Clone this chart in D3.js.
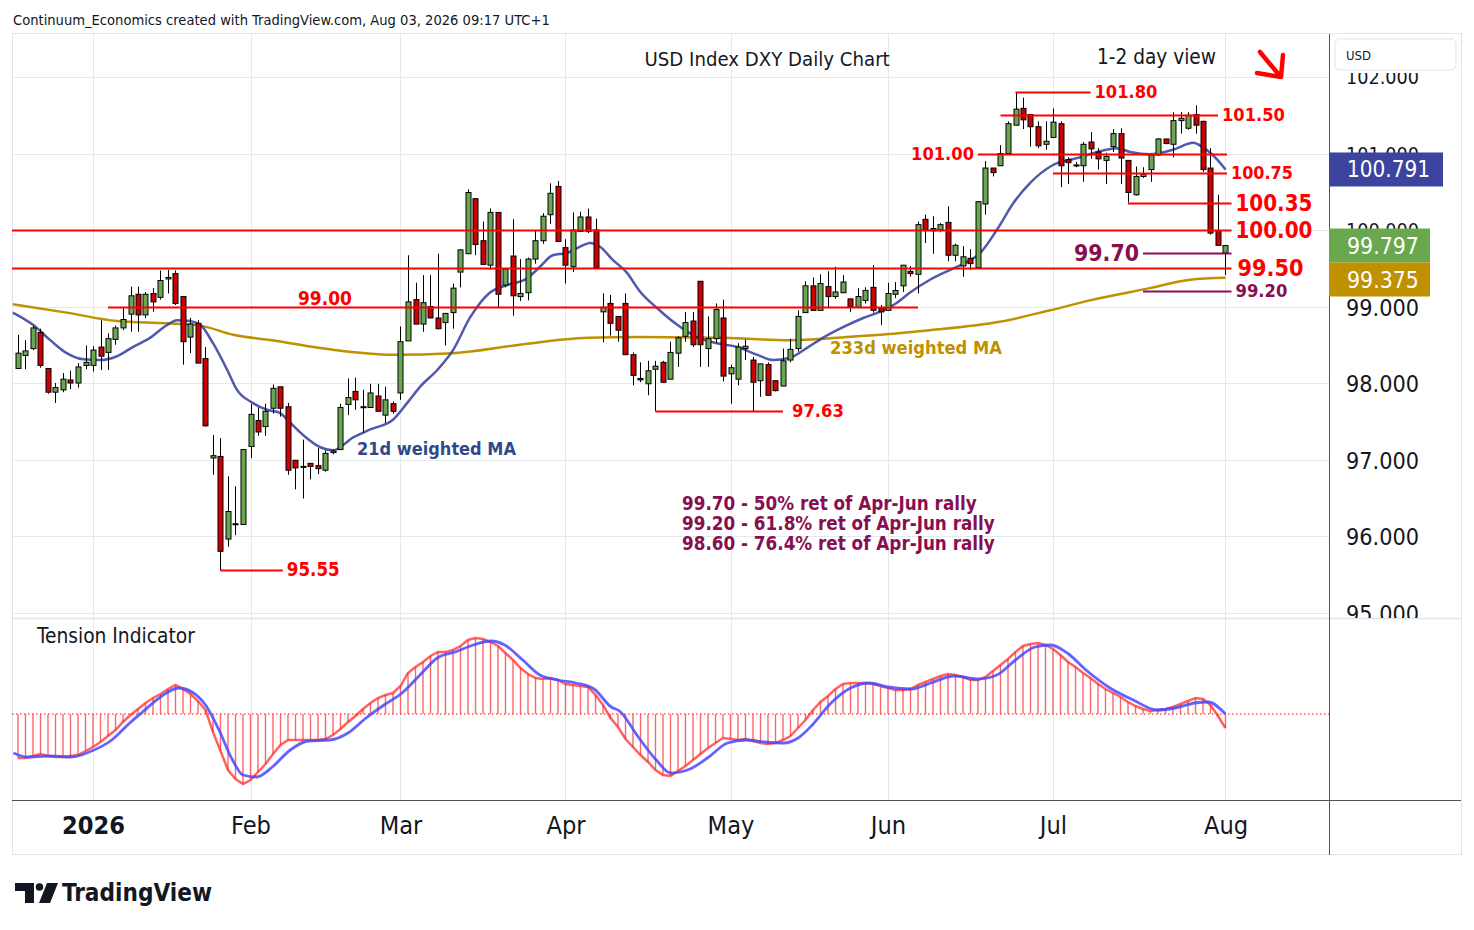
<!DOCTYPE html>
<html><head><meta charset="utf-8">
<script src="https://cdn.jsdelivr.net/npm/d3@7"></script>
<style>
html,body{margin:0;padding:0;background:#fff;}
svg{display:block;}
</style></head><body>
<svg id="c" width="1474" height="930"></svg>
<script>
// ---------------- DATA ----------------
const START_DATE = "2025-12-17";
const HOLIDAYS = ["2025-12-25","2026-01-01"];
const open = [98.19,98.36,98.45,98.66,98.19,97.88,97.91,98.04,98.00,98.23,
98.23,98.47,98.40,98.57,98.72,98.90,99.16,98.89,99.17,99.12,
99.36,99.43,99.13,98.60,98.78,98.32,97.02,97.04,95.96,96.15,
96.15,97.17,97.51,97.43,97.67,97.95,97.69,96.99,96.90,96.95,
96.92,96.86,97.09,97.13,97.72,97.89,97.68,97.68,97.83,97.58,
97.73,97.87,98.55,99.09,98.77,99.00,98.85,98.79,98.92,99.45,
99.69,100.41,99.86,99.54,100.23,99.28,99.66,99.13,99.18,99.62,
99.86,100.20,100.57,99.77,99.52,99.98,100.17,100.00,98.93,99.04,
98.87,99.04,98.37,98.06,97.99,98.18,98.27,98.05,98.39,98.61,
98.81,99.33,98.45,98.58,98.85,98.12,98.05,98.45,98.30,98.03,
98.24,98.03,97.96,98.30,98.45,98.92,99.27,98.95,99.26,99.13,
99.18,99.10,98.99,99.08,99.25,98.98,98.95,99.16,99.27,99.46,
99.42,100.14,100.02,100.00,100.10,99.67,99.53,99.63,99.51,100.34,
100.81,100.84,101.00,101.37,101.59,101.51,101.35,101.12,101.21,101.39,
100.92,100.84,100.84,101.15,101.02,100.91,101.09,101.26,100.91,100.46,
100.70,100.79,100.98,101.19,101.12,101.43,101.33,101.51,101.42,100.81,
99.99,99.70];
const high = [98.63,98.56,98.75,98.71,98.19,98.00,98.13,98.16,98.26,98.49,
98.48,98.82,98.65,98.75,98.98,99.26,99.26,99.19,99.24,99.47,
99.48,99.47,99.13,98.85,98.82,98.47,97.32,97.28,96.78,96.65,
97.13,97.73,97.68,97.73,97.98,97.95,97.74,96.99,97.26,96.95,
97.15,97.12,97.13,97.73,98.06,98.07,97.91,97.99,97.99,97.95,
97.76,98.74,99.67,99.31,99.41,99.41,99.69,98.91,99.30,99.75,
100.53,100.41,100.11,100.28,100.23,99.50,100.14,99.62,99.64,99.99,
100.22,100.61,100.64,99.88,100.23,100.24,100.28,100.15,99.17,99.15,
98.87,99.17,98.40,98.27,98.29,98.29,98.29,98.54,98.61,98.93,
98.93,99.33,98.87,99.04,99.09,98.24,98.52,98.57,98.34,98.25,
98.27,98.03,98.45,98.58,98.95,99.33,99.38,99.42,99.46,99.52,
99.41,99.10,99.24,99.25,99.54,99.02,99.31,99.32,99.54,99.53,
100.11,100.20,100.18,100.09,100.31,99.82,99.79,99.75,100.38,100.90,
100.81,101.11,101.42,101.80,101.73,101.51,101.42,101.42,101.59,101.42,
100.95,100.89,101.15,101.28,101.07,101.01,101.32,101.33,100.91,100.83,
100.82,100.99,101.20,101.19,101.54,101.54,101.54,101.63,101.43,101.07,
100.46,99.80];
const low = [98.18,98.18,98.43,98.20,97.86,97.74,97.88,97.92,97.94,98.18,
98.15,98.17,98.17,98.50,98.69,98.67,98.67,98.85,98.93,99.09,
99.17,99.02,98.24,98.39,98.26,97.43,96.80,95.55,95.86,96.01,
96.15,97.02,97.31,97.31,97.60,97.56,96.80,96.61,96.49,96.74,
96.81,96.84,97.07,97.13,97.58,97.65,97.35,97.68,97.63,97.48,
97.60,97.78,98.55,98.77,98.67,98.85,98.70,98.49,98.71,99.25,
99.69,99.67,99.55,99.48,98.98,99.25,98.88,99.07,99.08,99.56,
99.82,100.08,99.85,99.30,99.45,99.98,99.96,99.51,98.53,98.62,
98.54,98.37,97.97,98.01,97.84,97.63,98.00,98.05,98.21,98.54,
98.47,98.21,98.21,98.52,98.02,97.73,97.97,98.30,97.63,97.82,
97.84,97.89,97.96,98.27,98.41,98.92,98.95,98.95,98.99,99.10,
99.18,98.93,98.98,99.04,98.92,98.76,98.95,99.11,99.19,99.39,
99.17,99.83,99.69,99.97,99.59,99.59,99.39,99.48,99.51,100.20,
100.70,100.84,101.00,101.37,101.32,101.09,101.07,101.05,101.21,100.56,
100.60,100.82,100.63,100.93,100.79,100.60,101.02,100.60,100.36,100.45,
100.68,100.63,100.97,101.12,100.95,101.26,101.31,101.26,100.76,99.94,
99.80,99.41];
const close = [98.39,98.42,98.72,98.23,97.88,97.94,98.05,98.00,98.21,98.27,
98.43,98.35,98.58,98.72,98.83,99.14,98.89,99.16,99.06,99.34,
99.38,99.04,98.54,98.77,98.26,97.44,97.05,95.80,96.32,96.16,
97.13,97.59,97.36,97.63,97.93,97.67,96.86,96.89,96.91,96.91,
96.88,97.08,97.11,97.68,97.81,97.78,97.69,97.87,97.63,97.78,
97.63,98.54,99.06,98.77,99.05,98.85,98.71,98.91,99.24,99.74,
100.49,99.81,99.55,100.23,99.16,99.49,99.14,99.17,99.62,99.86,
100.18,100.48,99.85,99.54,100.00,100.17,99.98,99.51,98.99,98.78,
98.69,98.37,98.10,98.04,98.16,98.22,98.01,98.40,98.59,98.79,
98.50,98.50,98.58,98.96,98.09,98.20,98.47,98.48,98.01,98.25,
97.84,97.90,98.29,98.44,98.87,99.27,98.95,99.30,99.13,99.19,
99.32,99.00,99.13,99.21,98.95,98.93,99.17,99.21,99.54,99.43,
100.07,100.00,99.99,100.07,99.67,99.80,99.65,99.56,100.37,100.81,
100.75,101.00,101.39,101.58,101.44,101.35,101.10,101.16,101.41,100.84,
100.88,100.85,101.12,101.06,100.93,100.96,101.26,100.94,100.49,100.70,
100.73,100.98,101.19,101.13,101.43,101.46,101.50,101.37,100.79,99.96,
99.80,99.797];

// 21d weighted MA, read at bar positions
const wma21Bar = [-0.7,2,4.3,6.5,8.7,10.9,13.2,15.3,17.6,19.9,21.2,22.9,24.3,26,27.9,29.2,31.3,33.2,34.9,36.3,38.5,40.3,42,44.7,46.9,50,51.9,53.6,55.9,58,60.3,62.9,65.2,67.9,69.6,71.3,73.2,74.9,76.3,77.6,79.3,81.2,82.9,85.2,87.9,90.5,93.2,95.9,98.5,100.7,102.9,105.2,107.3,110,112.7,114.9,117.2,118.9,121.6,124.3,126.5,128.3,130.5,132.7,134.9,138,141.2,143.9,146.5,148.3,150.9,154,156.7,158,159.9,161];
const wma21 = [98.92,98.76,98.56,98.39,98.31,98.30,98.35,98.47,98.59,98.76,98.82,98.81,98.76,98.52,98.17,97.91,97.74,97.65,97.61,97.48,97.28,97.16,97.12,97.29,97.39,97.52,97.74,97.95,98.17,98.43,98.86,99.18,99.28,99.37,99.52,99.67,99.70,99.78,99.83,99.78,99.61,99.44,99.20,98.98,98.76,98.60,98.52,98.47,98.37,98.30,98.33,98.46,98.59,98.73,98.85,98.93,99.05,99.18,99.35,99.48,99.58,99.70,100.00,100.35,100.61,100.85,100.94,101.02,101.07,101.02,100.99,101.05,101.14,101.08,100.92,100.791];
// 233d weighted MA
const wma233Bar = [-0.7,6.5,13.2,19.9,24.3,28.7,34.5,41.6,50,58,66.9,75.9,82.9,94,102.9,111.9,121.6,130.9,137.6,142.9,150.9,156.3,161];
const wma233 = [99.03,98.92,98.81,98.78,98.75,98.63,98.55,98.44,98.37,98.39,98.50,98.59,98.60,98.59,98.56,98.61,98.69,98.80,98.95,99.08,99.24,99.35,99.375];

// Tension indicator (per bar) and its signal line
const tension = [-4.4,-4.4,-4.2,-4.0,-4.2,-4.3,-4.3,-4.2,-4.1,-3.7,
-3.3,-2.8,-2.2,-1.6,-0.8,-0.1,0.5,1.1,1.6,2.0,
2.5,2.9,2.5,2.0,1.3,0.4,-1.8,-3.7,-5.6,-6.5,
-7.0,-6.6,-5.8,-5.0,-4.0,-3.1,-2.6,-2.6,-2.6,-2.6,
-2.6,-2.5,-2.1,-1.5,-0.8,-0.2,0.5,1.1,1.6,1.9,
2.1,2.8,4.1,4.7,5.2,5.8,6.2,6.2,6.4,6.8,
7.4,7.6,7.5,7.2,6.8,6.1,5.4,4.6,4.0,3.6,
3.5,3.6,3.4,3.0,2.9,2.8,2.7,1.9,0.9,-0.4,
-1.3,-2.5,-3.3,-4.1,-4.8,-5.6,-6.1,-6.2,-5.7,-5.2,
-4.6,-4.0,-3.4,-2.9,-2.4,-2.5,-2.6,-2.5,-2.7,-2.9,
-3.0,-2.9,-2.6,-2.2,-1.4,-0.6,0.4,1.2,1.8,2.5,
3.0,3.1,3.1,3.1,3.0,2.8,2.6,2.4,2.4,2.5,
2.9,3.2,3.5,3.8,4.0,3.9,3.7,3.4,3.4,3.7,
4.3,4.9,5.5,6.2,6.8,7.0,7.1,6.9,6.5,5.9,
5.2,4.7,4.1,3.6,3.0,2.5,2.1,1.7,1.2,0.8,
0.5,0.3,0.4,0.5,0.7,1.0,1.3,1.6,1.5,0.9,
-0.2,-1.4];
const signalBar = [-0.6,1.2,4.2,7.1,9.5,12.5,14.9,16.6,19,21.4,23.2,25,26.8,28.6,30,31.8,33.9,36.3,38.7,41.6,44,46.4,48.8,51.2,53.6,55.9,58.3,60.7,63.1,64.9,67.3,69.6,72,74.4,76.8,79.1,80.2,82.7,85.1,87,89.6,92.1,94.6,97.1,99.6,102.1,104,105.9,108.4,111,113.5,116,119.1,121.7,124.8,128,130.5,133,135.6,137.7,139.9,142.4,145.6,148.7,151.9,154.3,156.9,158.7,161];
const signal = [-3.9,-4.3,-4.2,-4.3,-3.8,-2.6,-0.9,0.2,1.7,2.6,2.2,0.9,-1.6,-4.6,-6.1,-6.3,-5.3,-3.6,-2.7,-2.6,-1.9,-0.4,0.9,2.1,3.9,5.6,6.2,6.9,7.3,6.9,5.4,3.9,3.4,3.1,2.5,0.7,0.3,-2.3,-4.6,-5.9,-5.5,-4.3,-2.9,-2.6,-2.8,-2.9,-2.4,-1.1,1.1,2.6,3.1,2.7,2.5,3.1,3.8,3.5,3.9,5.4,6.7,6.9,6.1,4.4,2.6,1.4,0.4,0.6,1.1,1.2,0.0];

const priceTicks = [95,96,97,98,99,100,101,102];
const monthNames = ["Jan","Feb","Mar","Apr","May","Jun","Jul","Aug","Sep","Oct","Nov","Dec"];

// Support / resistance levels
const levelPrice = [101.80,101.50,101.00,100.75,100.35,100.00,99.70,99.50,99.20,99.00,97.63,95.55];
const levelText  = ["101.80","101.50","101.00","100.75","100.35","100.00","99.70","99.50","99.20","99.00","97.63","95.55"];
const retraceNotes = ["99.70 - 50% ret of Apr-Jun rally","99.20 - 61.8% ret of Apr-Jun rally","98.60 - 76.4% ret of Apr-Jun rally"];
const lastPrice = 99.797, lastWma21 = 100.791, lastWma233 = 99.375;

// ---------------- LAYOUT ----------------
const FONT = '"DejaVu Sans Condensed","DejaVu Sans","Noto Sans",sans-serif';
const PL=12, PR=1329, MT=34, MB=618, IT=619, IB=800, AR=1461, BB=855;
const RED="#ff0000", PURPLE="#880e4f", GREEN="#6aa84f", CRED="#cc0000", GOLD="#bf9000", NAVY="#3d47a3";

const svg = d3.select("#c");
const defs = svg.append("defs");
defs.append("clipPath").attr("id","cMain").append("rect").attr("x",PL).attr("y",MT).attr("width",PR-PL).attr("height",MB-MT);
defs.append("clipPath").attr("id","cInd").append("rect").attr("x",PL).attr("y",IT).attr("width",PR-PL).attr("height",IB-IT);
defs.append("clipPath").attr("id","cAx").append("rect").attr("x",PR).attr("y",73).attr("width",AR-PR).attr("height",MB-73);

// dates (trading days)
const dates=[]; { let d=new Date(START_DATE+"T12:00:00Z");
  while(dates.length<close.length){ const s=d.toISOString().slice(0,10), w=d.getUTCDay();
    if(w!==0&&w!==6&&!HOLIDAYS.includes(s)) dates.push(s); d.setUTCDate(d.getUTCDate()+1);} }
const monthTicks=[]; dates.forEach((s,i)=>{ if(i>0&&s.slice(5,7)!==dates[i-1].slice(5,7)) monthTicks.push(i); });
const tickLabel = i => { const m=+dates[i].slice(5,7); return m===1? dates[i].slice(0,4) : monthNames[m-1]; };

const x = d3.scaleLinear().domain([-0.8,174.8]).range([PL,PR]);
const y = d3.scaleLinear().domain([95,102]).range([612.5,77]);
const yi = d3.scaleLinear().domain([-8.6,9.5]).range([IB,IT]);

function fit(t,target){ const w=t.node().getComputedTextLength(); t.attr("font-size",(+t.attr("font-size"))*target/w); return t; }
function txt(g,str,xx,yy,size,opts={}){
  const t=g.append("text").attr("x",xx).attr("y",yy).text(str)
   .attr("font-family",FONT).attr("font-size",size).attr("fill",opts.fill||"#131722")
   .attr("font-weight",opts.weight||"normal").attr("dominant-baseline","central")
   .attr("text-anchor",opts.anchor||"start");
  if(opts.width) fit(t,opts.width);
  return t;
}

// frame
svg.append("rect").attr("width",1474).attr("height",930).attr("fill","#fff");
svg.append("rect").attr("x",PL+0.5).attr("y",MT-0.5).attr("width",AR-PL).attr("height",BB-MT).attr("fill","none").attr("stroke","#e0e3eb");

// grid
const grid = svg.append("g");
grid.selectAll(".hg").data(priceTicks).join("line").attr("x1",PL).attr("x2",PR)
  .attr("y1",d=>Math.round(y(d))+0.5).attr("y2",d=>Math.round(y(d))+0.5).attr("stroke","#e3e9f1");
grid.selectAll(".vg").data(monthTicks).join("line").attr("y1",MT).attr("y2",IB)
  .attr("x1",d=>Math.round(x(d))+0.5).attr("x2",d=>Math.round(x(d))+0.5).attr("stroke","#e3e9f1");
svg.append("line").attr("x1",PL).attr("x2",AR).attr("y1",MB+0.5).attr("y2",MB+0.5).attr("stroke","#e0e3eb").attr("stroke-width",1.5);

// header
txt(svg,"Continuum_Economics created with TradingView.com, Aug 03, 2026 09:17 UTC+1",13,19,14,{width:537});

// ---------------- MAIN PANE ----------------
const main = svg.append("g").attr("clip-path","url(#cMain)");
const lineMA = d3.line().curve(d3.curveMonotoneX);
main.append("path").attr("d",lineMA(wma233Bar.map((b,k)=>[x(b),y(wma233[k])]))).attr("fill","none").attr("stroke",GOLD).attr("stroke-width",2.5);
main.append("path").attr("d",lineMA(wma21Bar.map((b,k)=>[x(b),y(wma21[k])]))).attr("fill","none").attr("stroke",NAVY).attr("stroke-width",2.5).attr("stroke-opacity",0.9);

// levels
const END=161.8, LEFT=-0.8;
const levelStyle = [
 {from:133,to:143,side:"r",size:63,col:RED},
 {from:131,to:160,side:"r",size:63,col:RED},
 {from:128,to:161.2,side:"l",size:63,col:RED},
 {from:138,to:161.2,side:"r",size:62,col:RED},
 {from:148,to:END,side:"r",size:77,col:RED},
 {from:LEFT,to:END,side:"r",size:77,col:RED},
 {from:150,to:END,side:"l",size:65,col:PURPLE},
 {from:LEFT,to:END,side:"r",size:66,col:RED,gap:6},
 {from:150,to:END,side:"r",size:52,col:PURPLE},
 {from:12,to:120,side:"above",size:54,col:RED},
 {from:85,to:102,side:"r",size:52,col:RED,gap:9},
 {from:27,to:35.3,side:"r",size:53,col:RED}
];
const lv = svg.append("g");
levelPrice.forEach((p,k)=>{
  const st=levelStyle[k], yy=Math.round(y(p))+0.5;
  lv.append("line").attr("x1",x(st.from)).attr("x2",x(st.to)).attr("y1",yy).attr("y2",yy)
    .attr("stroke",st.col).attr("stroke-width",2);
  if(st.side==="r") txt(lv,levelText[k],x(st.to)+(st.gap||4),yy-1,20,{fill:st.col,weight:"bold",width:st.size});
  else if(st.side==="l") txt(lv,levelText[k],x(st.from)-4,yy-1,20,{fill:st.col,weight:"bold",anchor:"end",width:st.size});
  else txt(lv,levelText[k],298,yy-10,20,{fill:st.col,weight:"bold",width:st.size});
});

// candles
const cg = main.append("g");
close.forEach((c,i)=>{
  const o=open[i], xx=Math.round(x(i))+0.5;
  cg.append("line").attr("x1",xx).attr("x2",xx).attr("y1",y(high[i])).attr("y2",y(low[i])).attr("stroke","#000").attr("stroke-width",1);
  const top=y(Math.max(o,c)), bot=y(Math.min(o,c));
  cg.append("rect").attr("x",xx-2.5).attr("y",top).attr("width",5).attr("height",Math.max(1,bot-top))
    .attr("fill",c>=o?GREEN:CRED).attr("stroke","#000").attr("stroke-width",1);
});

// annotations
txt(svg,"USD Index DXY Daily Chart",644.5,59,18,{width:245.5});
txt(svg,"1-2 day view",1097,57,18,{width:119});
txt(svg,"233d weighted MA",830,347,19,{fill:GOLD,weight:"bold",width:172});
txt(svg,"21d weighted MA",357,448,19,{fill:"#2e4a8c",weight:"bold",width:159});
const n0 = txt(svg,retraceNotes[0],682,503,19,{fill:PURPLE,weight:"bold",width:295});
const nfs = n0.attr("font-size");
retraceNotes.slice(1).forEach((s,k)=>txt(svg,s,682,523+20*k,nfs,{fill:PURPLE,weight:"bold"}));
// arrow
svg.append("path").attr("d","M1260,52 L1280,76 M1257,73 L1281,77 L1283,55").attr("fill","none")
  .attr("stroke",RED).attr("stroke-width",4.5).attr("stroke-linecap","round").attr("stroke-linejoin","round");

// ---------------- INDICATOR ----------------
const ind = svg.append("g").attr("clip-path","url(#cInd)");
ind.append("line").attr("x1",PL).attr("x2",PR).attr("y1",yi(0)).attr("y2",yi(0)).attr("stroke",RED).attr("stroke-dasharray","1.5,2.5").attr("stroke-width",1);
ind.selectAll(".bar").data(tension).join("line").attr("x1",(d,i)=>x(i)).attr("x2",(d,i)=>x(i))
  .attr("y1",yi(0)).attr("y2",d=>yi(d)).attr("stroke","#ff4040").attr("stroke-opacity",0.8).attr("stroke-width",1.4);
ind.append("path").attr("d",d3.line()(tension.map((d,i)=>[x(i),yi(d)]))).attr("fill","none").attr("stroke","#ff2020").attr("stroke-opacity",0.7).attr("stroke-width",2.5);
ind.append("path").attr("d",d3.line().curve(d3.curveMonotoneX)(signalBar.map((b,k)=>[x(b),yi(signal[k])]))).attr("fill","none").attr("stroke","#4848ff").attr("stroke-opacity",0.85).attr("stroke-width",2.8);
txt(svg,"Tension Indicator",37,636,17,{width:158});

// ---------------- AXES ----------------
const axWrap = svg.append("g").attr("clip-path","url(#cAx)");
const axR = axWrap.append("g").attr("transform",`translate(${PR},0)`)
  .call(d3.axisRight(y).tickValues(priceTicks).tickFormat(d3.format(".3f")).tickSize(0).tickPadding(17));
axR.select(".domain").remove();
axR.selectAll("text").attr("font-family",FONT).attr("font-size",22).attr("fill","#131722").attr("dy",null).attr("dominant-baseline","central");
axR.selectAll("text").each(function(){ fit(d3.select(this),73); });

const axB = svg.append("g").attr("transform",`translate(0,${IB})`)
  .call(d3.axisBottom(x).tickValues(monthTicks).tickFormat(tickLabel).tickSize(0).tickPadding(0));
axB.select(".domain").remove();
axB.selectAll("text").attr("font-family",FONT).attr("font-size",23).attr("fill","#131722").attr("dy",null).attr("y",25).attr("dominant-baseline","central")
  .attr("font-weight",(d)=>+dates[d].slice(5,7)===1?"bold":"normal");
axB.selectAll("text").filter(d=>+dates[d].slice(5,7)===2).each(function(){ fit(d3.select(this),40); });
const fsB = axB.selectAll("text").filter(d=>+dates[d].slice(5,7)===2).attr("font-size");
axB.selectAll("text").attr("font-size",fsB);

svg.append("line").attr("x1",PR+0.5).attr("x2",PR+0.5).attr("y1",MT).attr("y2",BB).attr("stroke","#50535e");
svg.append("line").attr("x1",PL).attr("x2",AR).attr("y1",IB+0.5).attr("y2",IB+0.5).attr("stroke","#50535e");

// USD box
svg.append("rect").attr("x",1335).attr("y",39).attr("width",121).attr("height",31).attr("rx",5).attr("fill","#fff").attr("stroke","#e0e3eb");
txt(svg,"USD",1346,55,14,{width:25});

// price labels
function priceLabel(val,yc,col,w){
  svg.append("rect").attr("x",PR).attr("y",yc-17).attr("width",w).attr("height",34).attr("fill",col);
  txt(svg,d3.format(".3f")(val),1347,yc,22,{fill:"#fff",width:val>=100?83:72});
}
priceLabel(lastWma21,y(lastWma21),"#3c44a0",114);
priceLabel(lastPrice,y(lastPrice),GREEN,101);
priceLabel(lastWma233,y(lastPrice)+34,GOLD,101);

// TradingView logo
const lg = svg.append("g").attr("fill","#131722");
lg.append("path").attr("d","M15,883 H34 V903 H25 V891 H15 Z");
lg.append("circle").attr("cx",39.5).attr("cy",887).attr("r",3.8);
lg.append("path").attr("d","M47,883 H58 L50,903 H39 Z");
txt(svg,"TradingView",62,893,25,{weight:"bold",width:150});
</script>
</body></html>
